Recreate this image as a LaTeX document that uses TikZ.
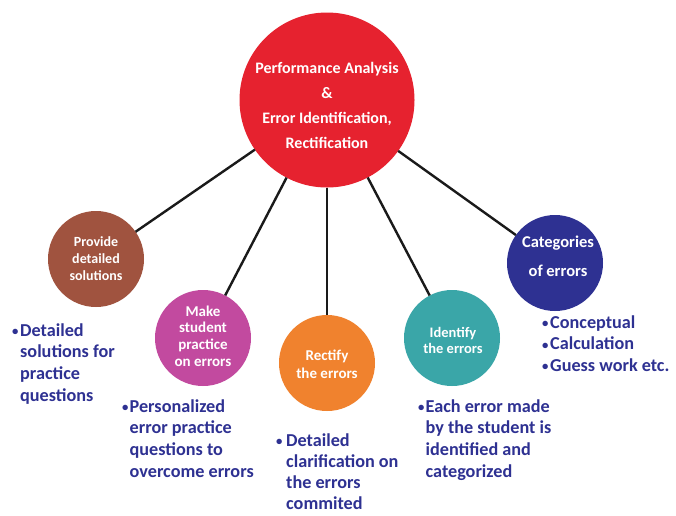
\documentclass[tikz,border=0pt]{standalone}
\usepackage{fontspec}
\setmainfont{Carlito}
\definecolor{cred}{HTML}{E6222F}
\definecolor{cbrown}{HTML}{A0533F}
\definecolor{cpink}{HTML}{C24A9F}
\definecolor{corange}{HTML}{F0822E}
\definecolor{cteal}{HTML}{3AA6A8}
\definecolor{cblue}{HTML}{2E3192}
\definecolor{cnavy}{HTML}{2E3192}
\definecolor{cline}{HTML}{1A1A1A}
\newcommand{\bul}[1]{\makebox[#1][l]{\raisebox{0.6pt}{\scalebox{0.7}{\textbullet}}}}
\begin{document}
\begin{tikzpicture}[x=1pt,y=-1pt,
  circ/.style={circle,inner sep=0pt,outer sep=0pt,minimum size=96pt},
  conn/.style={draw=cline,line width=2.4pt},
  ctext/.style={anchor=base,inner sep=0pt,text=white},
  btext/.style={anchor=base west,inner sep=0pt,text=cnavy,font=\bfseries\fontsize{18.2}{21.7}\selectfont}]
\useasboundingbox[fill=white] (0,0) rectangle (676,515);
% circles
\node[circ,fill=cred,minimum size=175pt] (red) at (327,100) {};
\node[circ,fill=cbrown] (brown) at (96,259) {};
\node[circ,fill=cpink] (pink) at (203,338) {};
\node[circ,fill=corange] (orange) at (327,363) {};
\node[circ,fill=cteal] (teal) at (452,338) {};
\node[circ,fill=cblue] (blue) at (555,263) {};
% connectors
\draw[conn] (red) -- (brown);
\draw[conn] (red) -- (pink);
\draw[conn] (red) -- (orange);
\draw[conn] (red) -- (teal);
\draw[conn] (red) -- (blue);
% circle texts
\node[ctext,font=\bfseries\fontsize{16}{25}\selectfont] (redt) at (327,73)
  {\begin{tabular}[t]{@{}c@{}}Performance Analysis\\ \&\\ Error Identification,\\ Rectification\end{tabular}};
\node[ctext,font=\bfseries\fontsize{14}{17}\selectfont] (brownt) at (96,246)
  {\begin{tabular}[t]{@{}c@{}}Provide\\ detailed\\ solutions\end{tabular}};
\node[ctext,font=\bfseries\fontsize{15}{16.7}\selectfont] (pinkt) at (203,316)
  {\begin{tabular}[t]{@{}c@{}}Make\\ student\\ practice\\ on errors\end{tabular}};
\node[ctext,font=\bfseries\fontsize{15}{18}\selectfont] (oranget) at (327,360)
  {\begin{tabular}[t]{@{}c@{}}Rectify\\ the errors\end{tabular}};
\node[ctext,font=\bfseries\fontsize{14.5}{16.5}\selectfont] (tealt) at (453,337)
  {\begin{tabular}[t]{@{}c@{}}Identify\\ the errors\end{tabular}};
\node[ctext,font=\bfseries\fontsize{16.5}{29}\selectfont] (bluet) at (558,247)
  {\begin{tabular}[t]{@{}c@{}}Categories\\ of errors\end{tabular}};
% bullet lists
\node[btext] (l1) at (12,336)
  {\begin{tabular}[t]{@{}l@{}l@{}}\bul{8pt}&Detailed\\ &solutions for\\ &practice\\ &questions\end{tabular}};
\node[btext] (l2) at (122,412)
  {\begin{tabular}[t]{@{}l@{}l@{}}\bul{7.5pt}&Personalized\\ &error practice\\ &questions to\\ &overcome errors\end{tabular}};
\node[btext,font=\bfseries\fontsize{18.2}{21.3}\selectfont] (l3) at (276,446)
  {\begin{tabular}[t]{@{}l@{}l@{}}\bul{10pt}&Detailed\\ &clarification on\\ &the errors\\ &commited\end{tabular}};
\node[btext] (l4) at (418,412)
  {\begin{tabular}[t]{@{}l@{}l@{}}\bul{7.5pt}&Each error made\\ &by the student is\\ &identified and\\ &categorized\end{tabular}};
\node[btext] (l5) at (542,328)
  {\begin{tabular}[t]{@{}l@{}l@{}}\bul{8pt}&Conceptual\\ \bul{8pt}&Calculation\\ \bul{8pt}&Guess work etc.\end{tabular}};
\end{tikzpicture}
\end{document}
